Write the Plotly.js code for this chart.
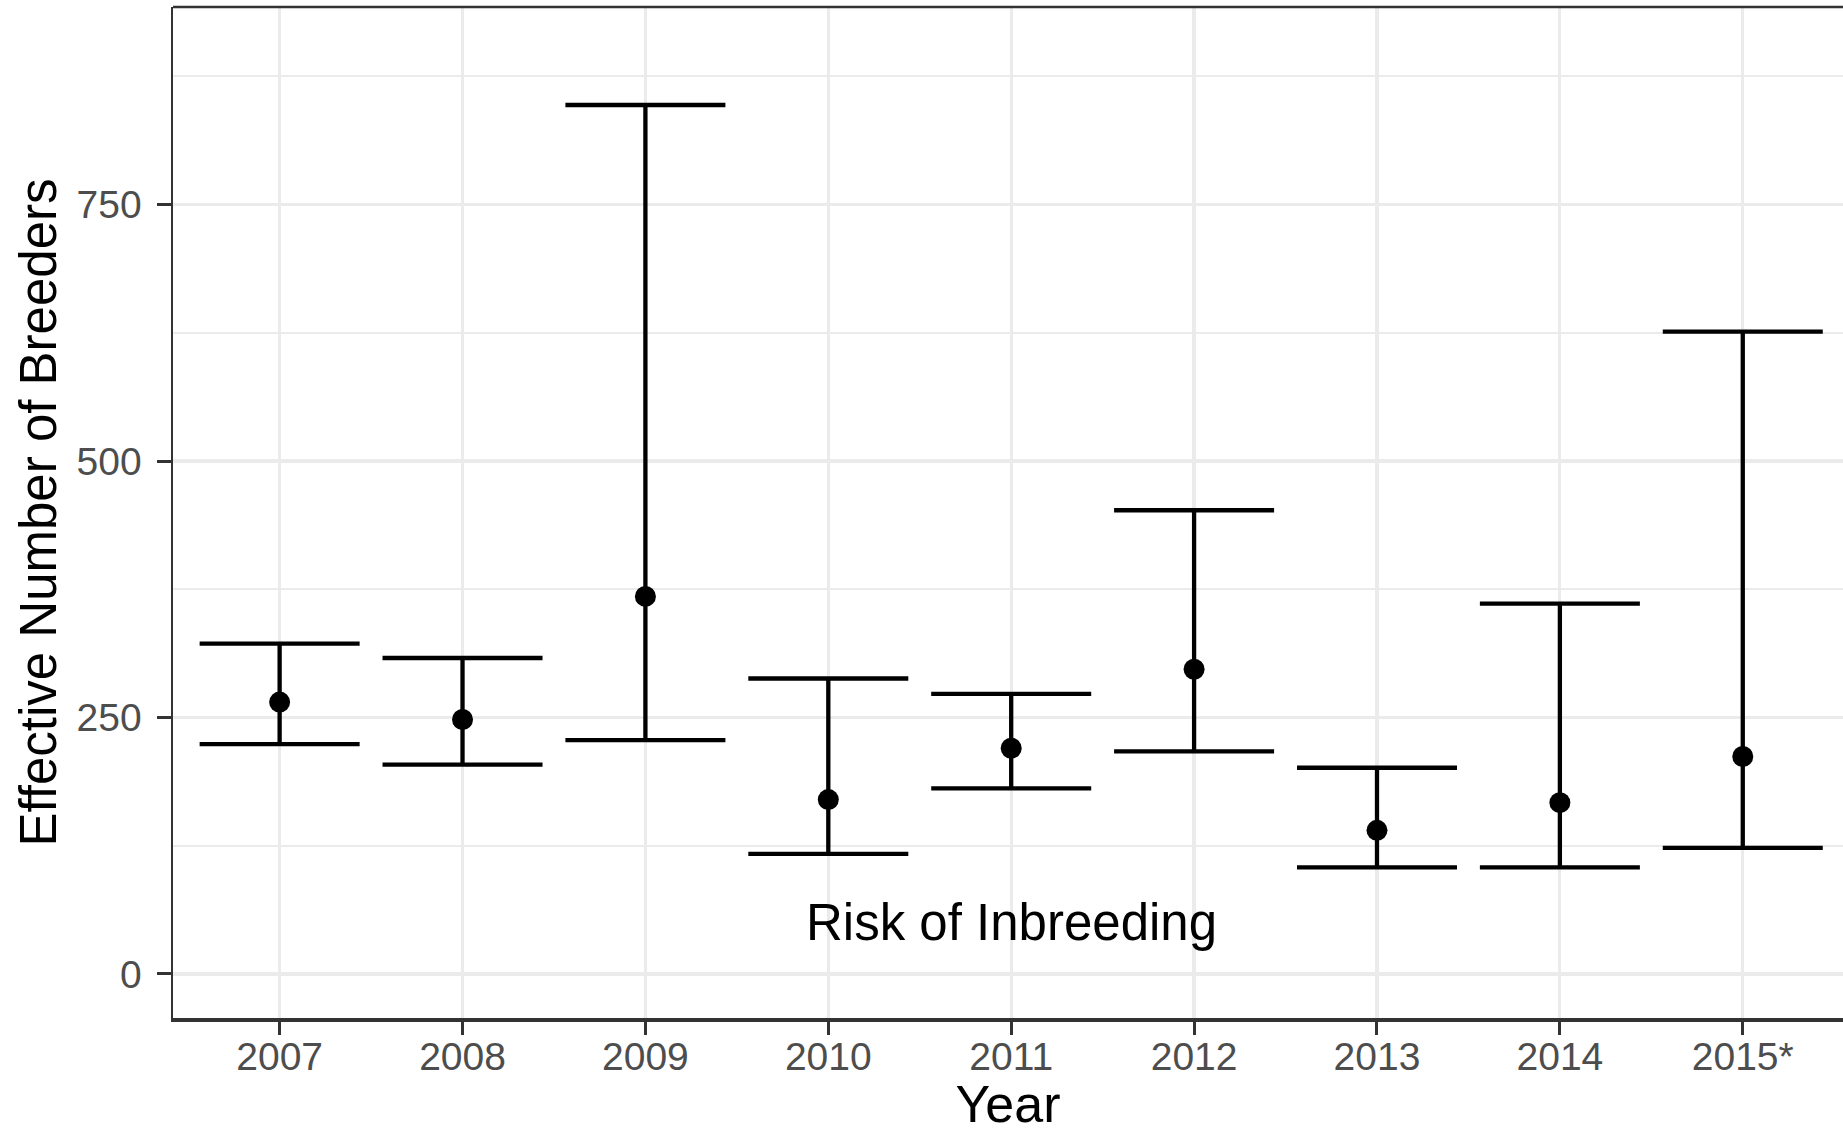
<!DOCTYPE html>
<html>
<head>
<meta charset="utf-8">
<script src="https://cdn.plot.ly/plotly-3.0.1.min.js"></script>
<style>
html,body{margin:0;padding:0;background:#fff;}
#chart{width:1843px;height:1133px;}
</style>
</head>
<body>
<div id="chart"></div>
<script>
const years = ["2007","2008","2009","2010","2011","2012","2013","2014","2015*"];
const estimate = [265, 248, 368, 170, 220, 297, 140, 167, 212];
const upper = [322, 308, 847, 288, 273, 452, 201, 361, 626];
const lower = [224, 204, 228, 117, 181, 217, 104, 104, 123];
const yTicks = [0, 250, 500, 750];
const noteText = "Risk of Inbreeding";
const noteX = "2011";
const noteY = 50;

const errPlus = upper.map((u, i) => u - estimate[i]);
const errMinus = lower.map((l, i) => estimate[i] - l);

const font = "Liberation Sans, Arial, sans-serif";

const trace = {
  type: "scatter",
  mode: "markers",
  x: years,
  y: estimate,
  marker: {color: "#000000", size: 21},
  error_y: {
    type: "data",
    symmetric: false,
    array: errPlus,
    arrayminus: errMinus,
    color: "#000000",
    thickness: 4.3,
    width: 80
  },
  hoverinfo: "skip",
  cliponaxis: false
};

const layout = {
  width: 1843,
  height: 1133,
  margin: {l: 173, r: 0, t: 7, b: 115},
  paper_bgcolor: "#ffffff",
  plot_bgcolor: "#ffffff",
  showlegend: false,
  font: {family: font, color: "#000000"},
  xaxis: {
    type: "category",
    range: [-0.583, 8.548],
    showgrid: true,
    gridcolor: "#EBEBEB",
    gridwidth: 3.2,
    zeroline: false,
    showline: true,
    linecolor: "#333333",
    linewidth: 4,
    ticks: "outside",
    ticklen: 13,
    tickwidth: 3,
    tickcolor: "#333333",
    ticklabelstandoff: -12,
    tickfont: {family: font, size: 39, color: "#4D4D4D"},
    title: {text: "Year", font: {family: font, size: 52, color: "#000000"}, standoff: 32}
  },
  yaxis: {
    range: [-42.9, 942.5],
    tickvals: yTicks,
    ticktext: yTicks.map(String),
    showgrid: true,
    gridcolor: "#EBEBEB",
    gridwidth: 3.2,
    minor: {tick0: 125, dtick: 250, showgrid: true, gridcolor: "#EBEBEB", gridwidth: 1.6, ticks: ""},
    zeroline: false,
    showline: true,
    linecolor: "#333333",
    linewidth: 2.5,
    ticks: "outside",
    ticklen: 14,
    tickwidth: 3,
    tickcolor: "#333333",
    ticklabelstandoff: 7,
    tickfont: {family: font, size: 39, color: "#4D4D4D"},
    title: {text: "Effective Number of Breeders", font: {family: font, size: 51, color: "#000000"}, standoff: 4}
  },
  shapes: [
    {type: "line", xref: "paper", yref: "paper", x0: 0, x1: 1, y0: 1, y1: 1,
     line: {color: "#333333", width: 2.5}}
  ],
  annotations: [
    {x: years.indexOf(noteX), y: noteY, xref: "x", yref: "y", text: noteText, showarrow: false,
     font: {family: font, size: 51, color: "#000000"}}
  ]
};

Plotly.newPlot("chart", [trace], layout, {displayModeBar: false, staticPlot: true});
</script>
</body>
</html>
